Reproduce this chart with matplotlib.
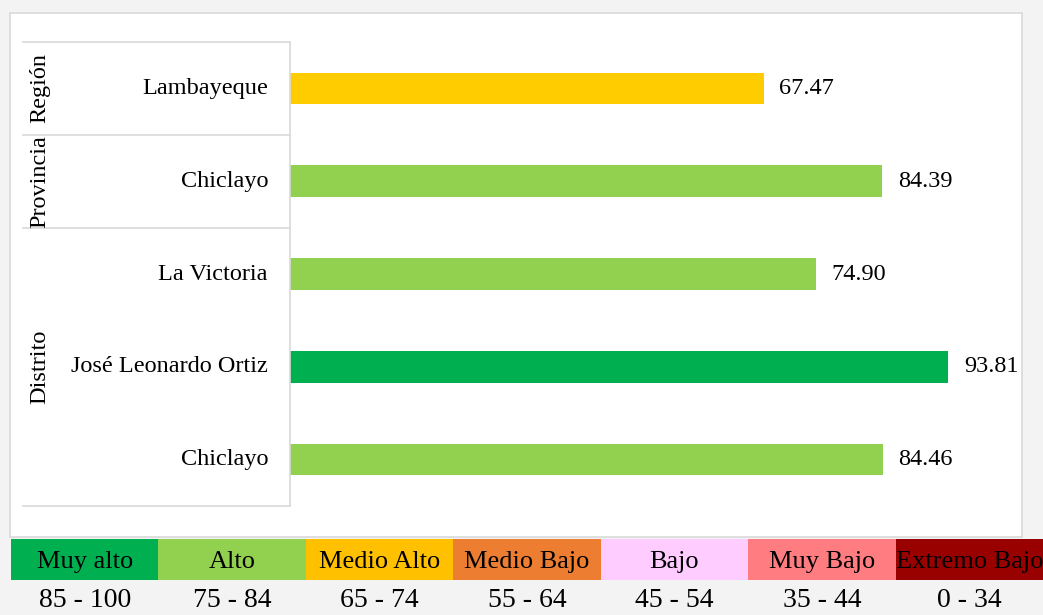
import matplotlib.pyplot as plt
from matplotlib.patches import Rectangle
from matplotlib.transforms import blended_transform_factory

plt.rcParams['font.family'] = ['Liberation Serif', 'DejaVu Serif']

categories = ['Lambayeque', 'Chiclayo', 'La Victoria', 'José Leonardo Ortiz', 'Chiclayo']
values = [67.47, 84.39, 74.90, 93.81, 84.46]
bar_colors = ['#FFCC00', '#92D050', '#92D050', '#00B050', '#92D050']
groups = [('Región', 0, 0), ('Provincia', 1, 1), ('Distrito', 2, 4)]

levels = ['Muy alto', 'Alto', 'Medio Alto', 'Medio Bajo', 'Bajo', 'Muy Bajo', 'Extremo Bajo']
ranges = ['85 - 100', '75 - 84', '65 - 74', '55 - 64', '45 - 54', '35 - 44', '0 - 34']
level_colors = ['#00B050', '#92D050', '#FFC000', '#ED7D31', '#FFCCFF', '#FF7C80', '#990000']

W, H = 1043, 615
fig = plt.figure(figsize=(W / 100, H / 100), dpi=100, facecolor='#f3f3f3')

def box(x0, y0, x1, y1):
    # pixel box (top-left origin) -> figure fraction rect
    return [x0 / W, 1 - y1 / H, (x1 - x0) / W, (y1 - y0) / H]

# white chart frame
fig.patches.append(Rectangle((10 / W, 1 - 537 / H), 1012 / W, 524 / H,
                             transform=fig.transFigure, facecolor='white',
                             edgecolor='#d9d9d9', lw=1.2, zorder=-5))

ax = fig.add_axes(box(290, 42, 1020, 506))
ax.set_facecolor('none')
ypos = range(len(categories))
ax.barh(ypos, values, height=0.34, color=bar_colors)
for y, v in zip(ypos, values):
    ax.text(v + 2.2, y, f'{v:.2f}', va='center', ha='left', fontsize=17.5)
ax.set_xlim(0, 104)
ax.set_ylim(4.5, -0.5)
ax.set_xticks([])
ax.set_yticks([])
for s in ['top', 'right', 'bottom']:
    ax.spines[s].set_visible(False)
ax.spines['left'].set_color('#d9d9d9')
ax.spines['left'].set_linewidth(1.2)

tr = blended_transform_factory(fig.transFigure, ax.transData)
for y, name in zip(ypos, categories):
    ax.text(268 / W, y, name, transform=tr, ha='right', va='center', fontsize=17.5)

for label, a, b in groups:
    ax.plot([23 / W, 290 / W], [a - 0.5, a - 0.5], transform=tr, color='#d9d9d9',
            lw=1.2, clip_on=False)
    ax.text(40 / W, (a + b) / 2, label, transform=tr, rotation=90,
            ha='center', va='center', fontsize=17.5)
ax.plot([23 / W, 290 / W], [4.5, 4.5], transform=tr, color='#d9d9d9',
        lw=1.2, clip_on=False)

# colour scale legend
lg = fig.add_axes(box(11, 539, 1043, 580))
lg.bar(range(len(levels)), [1] * len(levels), width=1.0, color=level_colors, align='edge')
lg.set_xlim(0, len(levels))
lg.set_ylim(0, 1)
lg.axis('off')
for i, (lv, rg) in enumerate(zip(levels, ranges)):
    lg.text(i + 0.5, 0.45, lv, ha='center', va='center', fontsize=19)
    lg.text(i + 0.5, -0.5, rg, ha='center', va='center', fontsize=20)

fig.savefig('out.png', dpi=100, facecolor=fig.get_facecolor())
